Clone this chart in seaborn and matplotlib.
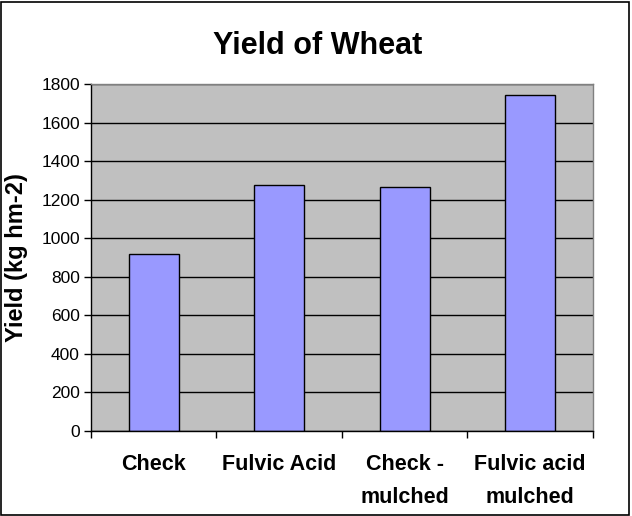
import matplotlib
matplotlib.use("Agg")
import matplotlib.pyplot as plt
import seaborn as sns
import pandas as pd
from matplotlib.patches import Rectangle
from matplotlib.ticker import FixedLocator

categories = ["Check", "Fulvic Acid", "Check -\nmulched", "Fulvic acid\nmulched"]
yields = [920, 1274, 1267, 1741]
yticks = [0, 200, 400, 600, 800, 1000, 1200, 1400, 1600, 1800]

sns.set_theme(style="white")
plt.rcParams["font.family"] = ["Liberation Sans", "DejaVu Sans"]
plt.rcParams["text.color"] = "black"
plt.rcParams["xtick.color"] = "black"
plt.rcParams["ytick.color"] = "black"
plt.rcParams["axes.labelcolor"] = "black"

df = pd.DataFrame({"cat": categories, "val": yields})

fig = plt.figure(figsize=(6.32, 5.16), dpi=100)
fig.patch.set_facecolor("white")
ax = fig.add_axes([0.144, 0.165, 0.794, 0.672])
ax.set_facecolor("#C0C0C0")

sns.barplot(data=df, x="cat", y="val", color="#9999FF", saturation=1,
            edgecolor="black", linewidth=1, width=0.4, ax=ax)

ax.set_ylim(0, 1800)
ax.set_xlim(-0.5, 3.5)
ax.set_yticks(yticks)
ax.set_yticklabels([str(v) for v in yticks], fontsize=12.5)
ax.yaxis.grid(True, color="black", linewidth=1)
ax.set_axisbelow(True)

ax.tick_params(axis="x", which="major", length=0, pad=17)
ax.set_xticklabels(categories, fontsize=15.5, fontweight="bold", linespacing=1.7)
ax.xaxis.set_minor_locator(FixedLocator([-0.5, 0.5, 1.5, 2.5, 3.5]))
ax.tick_params(axis="x", which="minor", bottom=True, length=5, width=1, color="black", direction="out")
ax.tick_params(axis="y", left=True, length=5, width=1, color="black", direction="out", pad=3)

ax.set_xlabel("")
ax.set_ylabel("Yield (kg hm-2)", fontsize=17, fontweight="bold")
ax.yaxis.set_label_coords(-0.125, 0.5)

for side in ["left", "bottom"]:
    ax.spines[side].set_color("black")
    ax.spines[side].set_linewidth(1)
for side in ["top", "right"]:
    ax.spines[side].set_color("#808080")
    ax.spines[side].set_linewidth(1)
    ax.spines[side].set_visible(True)

fig.text(0.503, 0.91, "Yield of Wheat", ha="center", va="center",
         fontsize=22, fontweight="bold")

fig.patches.append(Rectangle((0.002, 0.002), 0.994, 0.994, transform=fig.transFigure,
                             fill=False, edgecolor="black", linewidth=1.2))

fig.savefig("out.png", dpi=100)
